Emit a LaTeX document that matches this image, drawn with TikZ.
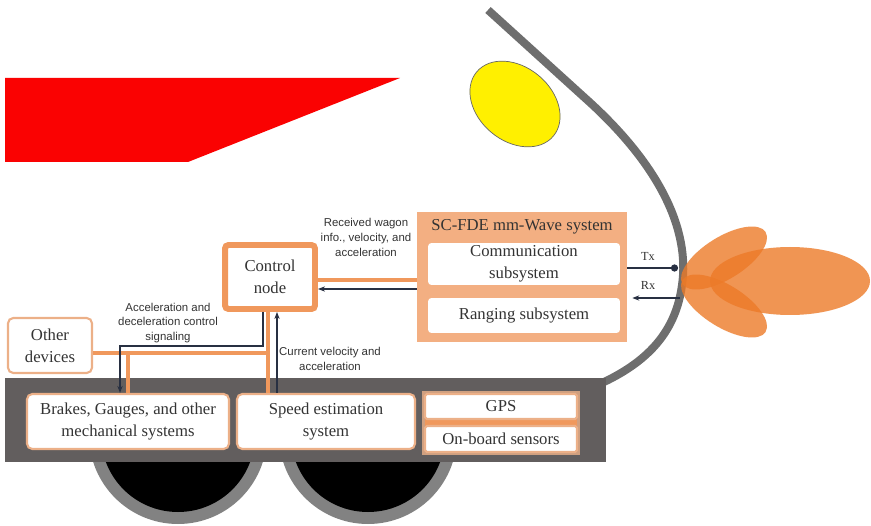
\documentclass[tikz,border=0pt]{standalone}
\usepackage{fontspec}
\setmainfont{Liberation Serif}
\newfontfamily\notefont{Liberation Sans}
\usetikzlibrary{arrows.meta}

\definecolor{trainred}{RGB}{250,2,2}
\definecolor{lampyellow}{RGB}{255,240,0}
\definecolor{nosegray}{RGB}{110,110,110}
\definecolor{chassis}{RGB}{98,94,94}
\definecolor{rimgray}{RGB}{130,130,130}
\definecolor{boxorange}{RGB}{243,175,130}
\definecolor{busorange}{RGB}{240,152,92}
\definecolor{edgeorange}{RGB}{236,176,136}
\definecolor{beamorange}{RGB}{236,122,40}
\definecolor{sigdark}{RGB}{40,48,66}

\begin{document}
\begin{tikzpicture}[x=0.02cm,y=-0.02cm,
    box/.style={draw=edgeorange, line width=1.2pt, fill=white, rounded corners=3pt,
        align=center, inner sep=0pt, text=black!80,
        font=\fontsize{9.5}{12.5}\selectfont},
    note/.style={align=center, text=black!80, font=\notefont\fontsize{6.5}{8.5}\selectfont},
    bus/.style={busorange, line width=2.8pt},
    sig/.style={sigdark, line width=1pt},
    beam/.style={fill=beamorange, fill opacity=0.8}]

    \useasboundingbox (0,0) rectangle (871,526);

    % body of the train: stripe, lamp and nose
    \fill[trainred] (5,78) -- (400,78) -- (188,162) -- (5,162) -- cycle;
    \draw[black!60, fill=lampyellow, rotate around={-40:(515,104)}]
        (515,104) ellipse [x radius=50, y radius=37];
    \draw[nosegray, line width=0.16cm] (488,10) -- (585,98)
        .. controls (660,165) and (690,230) .. (682,285)
        .. controls (676,330) and (650,360) .. (604,382);

    % wheels, only the part under the chassis shows
    \begin{scope}
        \clip (0,462) rectangle (871,526);
        \foreach \wx in {178,368} {
            \fill[rimgray] (\wx,435) circle (89);
            \fill[black] (\wx,435) circle (77);
        }
    \end{scope}
    \fill[chassis] (5,378) rectangle (606,462);
    \fill[edgeorange!80!chassis] (422,391) rectangle (580,455);
    \fill[busorange] (425,419) rectangle (577,426);

    % blocks
    \node[box, minimum width=4.04cm, minimum height=1.1cm] (brakes) at (128,421.5)
        {Brakes, Gauges, and other\\mechanical systems};
    \node[box, minimum width=3.56cm, minimum height=1.1cm] (speed) at (326,421.5)
        {Speed estimation\\system};
    \node[box, rounded corners=1pt, minimum width=3.04cm, minimum height=0.5cm] (gps) at (501,406.5) {GPS};
    \node[box, rounded corners=1pt, minimum width=3.04cm, minimum height=0.52cm] (sensors) at (501,439) {On-board sensors};
    \node[box, minimum width=1.68cm, minimum height=1.1cm] (other) at (50,345.5) {Other\\devices};
    \node[box, draw=busorange, line width=3.4pt, rounded corners=2pt,
        minimum width=1.8cm, minimum height=1.28cm] (ctrl) at (270,277) {Control\\node};

    \node[fill=boxorange, minimum width=4.2cm, minimum height=2.6cm] (sc) at (522,277) {};
    \node[font=\fontsize{9.5}{11}\selectfont, text=black!80] (sctitle) at (522,227) {SC-FDE mm-Wave system};
    \node[box, draw=none, rounded corners=2pt, minimum width=3.84cm, minimum height=0.84cm] (comm) at (524,264)
        {Communication\\subsystem};
    \node[box, draw=none, rounded corners=2pt, minimum width=3.84cm, minimum height=0.7cm] (rang) at (524,315.5)
        {Ranging subsystem};

    % links between the blocks
    \coordinate (busjoin) at (128,353);
    \draw[bus] ([yshift=-0.15cm]other.east) -| ([xshift=-0.04cm]ctrl.south);
    \draw[bus] ([xshift=-0.04cm]ctrl.south) -- ([xshift=-0.04cm]ctrl.south |- speed.north);
    \draw[bus] (busjoin) -- (brakes.north);
    \draw[sig, -{Stealth[length=4pt]}] ([xshift=-0.14cm]ctrl.south)
        |- ([xshift=-0.16cm, yshift=0.94cm]brakes.north) -- ([xshift=-0.16cm]brakes.north);
    \draw[sig, -{Stealth[length=4pt]}] ([xshift=0.14cm]ctrl.south |- speed.north)
        -- ([xshift=0.14cm]ctrl.south);
    \draw[bus] ([yshift=-0.06cm]ctrl.east) -- ([yshift=-0.06cm]ctrl.east -| sc.west);
    \draw[sig, -{Stealth[length=4pt]}] ([yshift=-0.24cm]ctrl.east -| sc.west)
        -- ([yshift=-0.24cm]ctrl.east);

    \node[note] (rxinfo) at (366,237) {Received wagon\\info., velocity, and\\acceleration};
    \node[note] (ctrlsig) at (168,323) {Acceleration and\\deceleration control\\signaling};
    \node[note] (velinfo) at (330,359) {Current velocity and\\acceleration};

    % antenna ports and beam
    \coordinate (txend) at (678,268);
    \coordinate (rxend) at (680,298);
    \draw[sig, line width=1.6pt, -{Circle[length=4pt]}] (sc.east |- txend) -- (txend);
    \draw[sig, line width=1.6pt, -{Stealth[length=4pt]}] (rxend) -- ([xshift=0.1cm]sc.east |- rxend);
    \node[font=\fontsize{7}{8}\selectfont, text=black!80] (txlabel) at (648,256) {Tx};
    \node[font=\fontsize{7}{8}\selectfont, text=black!80] (rxlabel) at (648,285) {Rx};

    \fill[beam] (790,281) ellipse [x radius=80, y radius=34];
    \fill[beam, rotate around={32:(724,258)}] (724,258) ellipse [x radius=49, y radius=21];
    \fill[beam, rotate around={-32:(724,306)}] (724,306) ellipse [x radius=49, y radius=21];

\end{tikzpicture}
\end{document}
